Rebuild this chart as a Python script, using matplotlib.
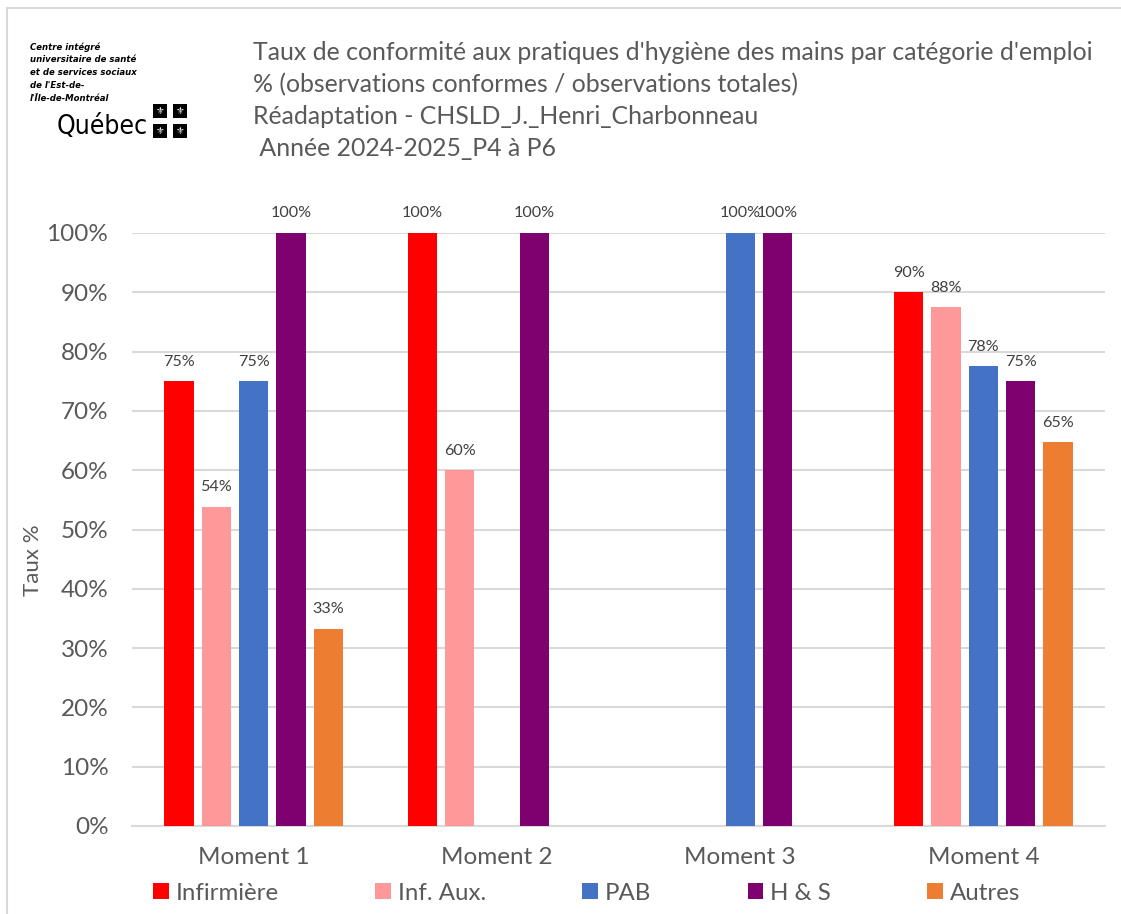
import matplotlib
matplotlib.use("Agg")
import matplotlib.pyplot as plt
import numpy as np
from matplotlib.patches import Rectangle

categories = ["Moment 1", "Moment 2", "Moment 3", "Moment 4"]
series_names = ["Infirmière", "Inf. Aux.", "PAB", "H & S", "Autres"]
infirmiere = [75.0, 100.0, np.nan, 90.0]
inf_aux = [53.8, 60.0, np.nan, 87.5]
pab = [75.0, np.nan, 100.0, 77.5]
h_s = [100.0, 100.0, 100.0, 75.0]
autres = [33.3, np.nan, np.nan, 64.7]
yticks = [0, 10, 20, 30, 40, 50, 60, 70, 80, 90, 100]
title_lines = [
    "Taux de conformité aux pratiques d'hygiène des mains par catégorie d'emploi",
    "% (observations conformes / observations totales)",
    "Réadaptation - CHSLD_J._Henri_Charbonneau",
    " Année 2024-2025_P4 à P6",
]
logo_lines = ["Centre intégré", "universitaire de santé", "et de services sociaux",
              "de l'Est-de-", "l'Île-de-Montréal"]

colors = ["#FF0000", "#FF9999", "#4472C4", "#7F006F", "#ED7D31"]
series = [infirmiere, inf_aux, pab, h_s, autres]
gray = "#595959"
FONT = ["Lato", "DejaVu Sans"]
plt.rcParams["font.family"] = FONT

W, H = 1121, 914
fig = plt.figure(figsize=(W / 100, H / 100), dpi=100)

def fx(px):
    return px / W

def fy(py):
    return 1 - py / H

# chart border (top and left visible)
fig.patches.append(Rectangle((fx(7), fy(930)), fx(1300), fy(8) - fy(930),
                             transform=fig.transFigure, fill=False,
                             edgecolor="#d9d9d9", linewidth=1.5))

ax = fig.add_axes([fx(132), fy(826), fx(1105) - fx(132), fy(233) - fy(826)])
x = np.arange(len(categories))
pitch = 0.1535
width = 0.12
for i, (name, vals, c) in enumerate(zip(series_names, series, colors)):
    pos = x + (i - 2) * pitch
    v = np.array(vals, dtype=float)
    ax.bar(pos, np.nan_to_num(v), width=width, color=c, label=name, zorder=3)
    for p, val in zip(pos, v):
        if not np.isnan(val):
            ax.annotate(f"{val:.0f}%", (p, val), xytext=(0, 9), textcoords="offset points",
                        ha="center", va="bottom", fontsize=11.6, color="#404040",
                        annotation_clip=False)

ax.set_xlim(-0.5, len(categories) - 0.5)
ax.set_ylim(0, 100)
ax.set_yticks(yticks)
ax.set_yticklabels([f"{t}%" for t in yticks])
ax.set_xticks(x)
ax.set_xticklabels(categories)
ax.tick_params(axis="both", length=0, colors=gray, labelsize=17.5)
ax.tick_params(axis="y", pad=17)
ax.tick_params(axis="x", pad=15)
ax.yaxis.grid(True, color="#d9d9d9", linewidth=1.5, zorder=0)
ax.set_axisbelow(True)
for s in ["top", "right", "left"]:
    ax.spines[s].set_visible(False)
ax.spines["bottom"].set_color("#d9d9d9")
ax.spines["bottom"].set_linewidth(1.5)
fig.text(fx(33), fy(560), "Taux %", rotation=90, fontsize=16, color=gray,
         ha="center", va="center")

# title
for k, line in enumerate(title_lines):
    fig.text(fx(253), fy(52 + k * 32.3), line, fontsize=17.9, color=gray,
             ha="left", va="center")

# logo
LOGO = ["DejaVu Sans"]
for k, line in enumerate(logo_lines):
    fig.text(fx(30), fy(47 + k * 12.8), line, fontsize=6.8, fontweight="bold",
             style="italic", fontstretch="condensed", color="black",
             family=LOGO, ha="left", va="center")
fig.text(fx(57), fy(127), "Québec", fontsize=19, color="black",
         fontstretch="condensed", family=LOGO, ha="left", va="center")
for (cx, cy) in [(160, 111), (180, 111), (160, 131), (180, 131)]:
    fig.patches.append(Rectangle((fx(cx - 7), fy(cy + 7)), fx(14), fy(0) - fy(14),
                                 transform=fig.transFigure, facecolor="black",
                                 edgecolor="none"))
    fig.text(fx(cx), fy(cy), "⚜", fontsize=7, color="white", ha="center", va="center",
             family=["DejaVu Sans"])

handles, labels = ax.get_legend_handles_labels()
leg = fig.legend(handles, labels, loc="center left", bbox_to_anchor=(fx(153), fy(893)),
                 ncol=5, frameon=False, fontsize=17.3, handlelength=0.65, handleheight=0.65,
                 handletextpad=0.3, columnspacing=4.0, labelcolor=gray,
                 borderpad=0, borderaxespad=0)

fig.savefig("out.png", dpi=100)
